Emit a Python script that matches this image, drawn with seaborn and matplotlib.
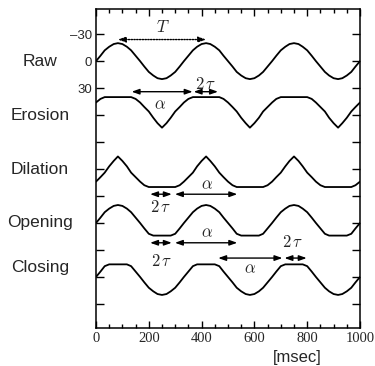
import numpy as np
import pandas as pd
import matplotlib
matplotlib.use("Agg")
import matplotlib.pyplot as plt
import matplotlib.transforms as mtransforms
import seaborn as sns

# ==================================================
# DATA (3 Hz wave, ~20 units amplitude)
# ==================================================

t_msec = [0, 17, 33, 50, 67, 83, 100, 117, 133, 150, 167, 183, 200, 217, 233,
          250, 267, 283, 300, 317, 333, 350, 367, 383, 400, 417, 433, 450, 467,
          483, 500, 517, 533, 550, 567, 583, 600, 617, 633, 650, 667, 683, 700,
          717, 733, 750, 767, 783, 800, 817, 833, 850, 867, 883, 900, 917, 933,
          950, 967, 983, 1000]

raw = [0, -6, -12, -16, -19, -20, -19, -16, -12, -6, 0, 6, 12, 16, 19, 20, 19, 16, 12, 6,
       0, -6, -12, -16, -19, -20, -19, -16, -12, -6, 0, 6, 12, 16, 19, 20, 19, 16, 12, 6,
       0, -6, -12, -16, -19, -20, -19, -16, -12, -6, 0, 6, 12, 16, 19, 20, 19, 16, 12, 6,
       0]

erosion = [-14, -18, -20, -20, -20, -20, -20, -20, -20, -18, -14, -9, -4, 3, 9, 14, 9, 3, -4, -9,
           -14, -18, -20, -20, -20, -20, -20, -20, -20, -18, -14, -9, -4, 3, 9, 14, 9, 3, -4, -9,
           -14, -18, -20, -20, -20, -20, -20, -20, -20, -18, -14, -9, -4, 3, 9, 14, 9, 3, -4, -9,
           -14]

dilation = [14, 9, 4, -3, -9, -14, -9, -3, 4, 9, 14, 18, 20, 20, 20, 20, 20, 20, 20, 18,
            14, 9, 4, -3, -9, -14, -9, -3, 4, 9, 14, 18, 20, 20, 20, 20, 20, 20, 20, 18,
            14, 9, 4, -3, -9, -14, -9, -3, 4, 9, 14, 18, 20, 20, 20, 20, 20, 20, 20, 18,
            14]

opening = [0, -6, -12, -16, -19, -20, -19, -16, -12, -6, 0, 6, 12, 14, 14, 14, 14, 14, 12, 6,
           0, -6, -12, -16, -19, -20, -19, -16, -12, -6, 0, 6, 12, 14, 14, 14, 14, 14, 12, 6,
           0, -6, -12, -16, -19, -20, -19, -16, -12, -6, 0, 6, 12, 14, 14, 14, 14, 14, 12, 6,
           0]

closing = [0, -6, -12, -14, -14, -14, -14, -14, -12, -6, 0, 6, 12, 16, 19, 20, 19, 16, 12, 6,
           0, -6, -12, -14, -14, -14, -14, -14, -12, -6, 0, 6, 12, 16, 19, 20, 19, 16, 12, 6,
           0, -6, -12, -14, -14, -14, -14, -14, -12, -6, 0, 6, 12, 16, 19, 20, 19, 16, 12, 6,
           0]

trace_names = ["Raw", "Erosion", "Dilation", "Opening", "Closing"]
trace_values = [raw, erosion, dilation, opening, closing]

# vertical stacking of the traces and their row labels
offsets = [0, 60, 120, 180, 240]
label_y = [0, 60, 120, 180, 230]

ytick_labels = ["\u201330", "0", "30"]

# ==================================================
# LONG TABLE FOR SEABORN
# ==================================================

rows = []
for name, vals, off in zip(trace_names, trace_values, offsets):
    for t, v in zip(t_msec, vals):
        rows.append({"t": t, "y": v + off, "trace": name})
df = pd.DataFrame(rows)

# ==================================================
# PLOT
# ==================================================

sns.set_style("ticks")
plt.rcParams["font.family"] = ["Liberation Sans", "DejaVu Sans"]
plt.rcParams["mathtext.fontset"] = "cm"
plt.rcParams["axes.unicode_minus"] = False

fig = plt.figure(figsize=(3.75, 3.66), dpi=100)
ax = fig.add_axes([0.256, 0.104, 0.704, 0.871])

sns.lineplot(
    data=df, x="t", y="y", hue="trace",
    palette=["black"] * 5, legend=False,
    linewidth=1.3, estimator=None, sort=False, ax=ax
)

ax.set_xlim(0, 1000)
ax.set_ylim(296.7, -57.8)

ax.set_xticks(range(0, 1001, 200))
ax.set_xticks(range(0, 1001, 50), minor=True)
ax.set_yticks(range(-30, 271, 30))
ax.set_yticklabels(ytick_labels + [""] * 8, fontsize=9.5)
for lab in ax.get_xticklabels():
    lab.set_family("Liberation Serif")
    lab.set_fontsize(10.5)

ax.tick_params(which="both", direction="in", top=True, right=True, width=1, color="black")
ax.tick_params(axis="y", length=5.5, pad=3)
ax.tick_params(axis="x", which="major", length=5, pad=3)
ax.tick_params(axis="x", which="minor", length=3)
for sp in ax.spines.values():
    sp.set_linewidth(1.1)
    sp.set_color("black")

ax.set_xlabel("")
ax.set_ylabel("")
ax.text(0.761, -0.092, "[msec]", transform=ax.transAxes,
        ha="center", va="center", fontsize=12)

# row labels on the left
trans = mtransforms.blended_transform_factory(ax.transAxes, ax.transData)
for name, ly in zip(trace_names, label_y):
    ax.text(-0.212, ly, name, transform=trans, ha="center", va="center", fontsize=12.5)

# ==================================================
# ARROWS AND SYMBOLS
# ==================================================

def harrow(x0, x1, y, ls="-"):
    ax.annotate(
        "", xy=(x1, y), xytext=(x0, y),
        arrowprops=dict(arrowstyle="<|-|>,head_length=0.45,head_width=0.16",
                        color="black", lw=1.0, ls=ls, shrinkA=0, shrinkB=0)
    )

harrow(83, 417, -24, ls=(0, (1, 1)))
ax.text(254, -38, "$T$", ha="center", va="center", fontsize=12)

# erosion
harrow(135, 366, 34)
harrow(370, 462, 34)
ax.text(242, 48, r"$\alpha$", ha="center", va="center", fontsize=12)
ax.text(417, 25, r"$2\,\tau$", ha="center", va="center", fontsize=12)

# dilation
harrow(205, 287, 148)
harrow(299, 535, 148)
ax.text(419, 137, r"$\alpha$", ha="center", va="center", fontsize=12)
ax.text(245, 162, r"$2\,\tau$", ha="center", va="center", fontsize=12)

# opening
harrow(205, 287, 202)
harrow(299, 535, 202)
ax.text(419, 191, r"$\alpha$", ha="center", va="center", fontsize=12)
ax.text(247, 222, r"$2\,\tau$", ha="center", va="center", fontsize=12)

# closing
harrow(463, 706, 219)
harrow(714, 798, 219)
ax.text(583, 231, r"$\alpha$", ha="center", va="center", fontsize=12)
ax.text(745, 201, r"$2\,\tau$", ha="center", va="center", fontsize=12)

plt.savefig("out.png", dpi=100)
